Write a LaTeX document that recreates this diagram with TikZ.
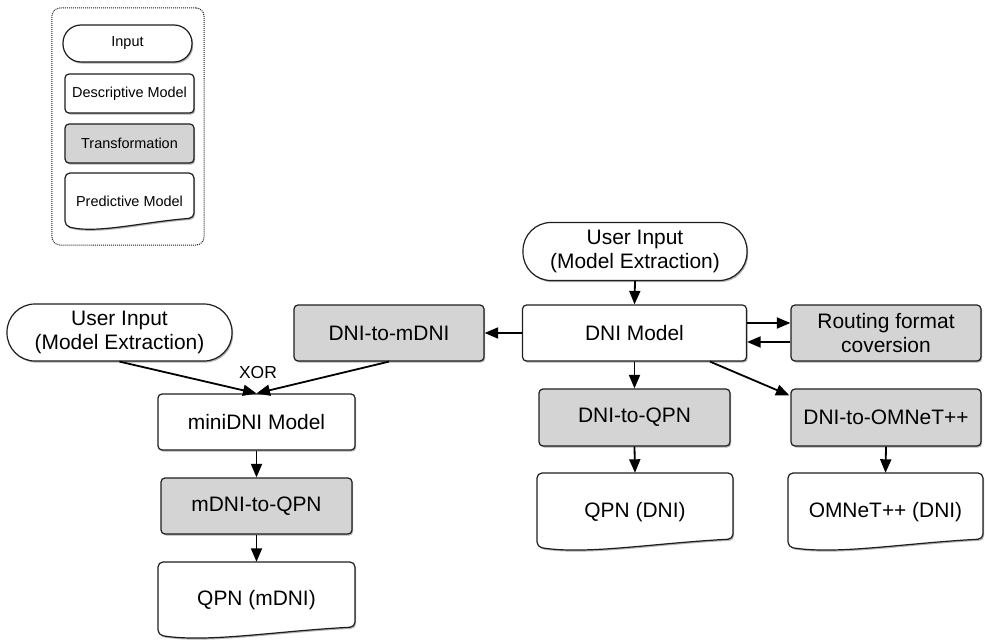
\documentclass[tikz,border=0pt]{standalone}
\usepackage{fontspec}
\setmainfont{Liberation Sans}
\usetikzlibrary{arrows.meta,shadows,calc}
\definecolor{boxgray}{RGB}{212,212,212}
\definecolor{edgecol}{RGB}{30,30,30}
\newcommand{\mainfs}{\fontsize{21}{25}\selectfont}
\newcommand{\legendfs}{\fontsize{14.5}{17}\selectfont}
\newcommand{\xorfs}{\fontsize{17.5}{20}\selectfont}
\tikzset{
  softshadow/.style={drop shadow={shadow xshift=1.2bp, shadow yshift=-1.6bp, opacity=0.3, fill=black}},
  basebox/.style={draw=edgecol, line width=1.2bp, rounded corners=4bp, align=center,
                  inner sep=0pt, font=\mainfs, softshadow},
  descbox/.style={basebox, fill=white},
  transbox/.style={basebox, fill=boxgray},
  inbox/.style={basebox, fill=white, rounded corners=28bp},
  docline/.style={draw=edgecol, line width=1.2bp, fill=white, rounded corners=5bp, softshadow},
  doctext/.style={align=center, inner sep=0pt, font=\mainfs},
  arr/.style={-{Triangle[length=13.5bp,width=11bp]}, line width=1.8bp, draw=black},
  legendframe/.style={draw=edgecol, densely dotted, line width=1bp, rounded corners=8bp}
}
% document shape: name, left, top, right, lowest point of the wavy bottom, text
\newcommand{\docnode}[6]{%
  \path[docline] (#4,#5-12) .. controls ({#4-0.4*(#4-#2)},#5-8) and ({#2+0.25*(#4-#2)},#5+4) .. (#2,#5-4)
     -- (#2,#3) -- (#4,#3) -- cycle;
  \node[doctext, minimum width={(#4-#2)*1bp}, minimum height={(#5-#3)*1bp}] (#1)
     at ({(#2+#4)/2},{(#3+#5)/2}) {#6};
}
\begin{document}
\begin{tikzpicture}[x=1bp,y=-1bp]
\useasboundingbox (0,0) rectangle (985,642);

% legend
\node[legendframe, minimum width=152bp, minimum height=237bp] (legend) at (128,126.5) {};
\node[inbox, font=\legendfs, rounded corners=18bp, minimum width=129bp, minimum height=37bp] (lin) at (127.5,43.5) {Input};
\node[descbox, font=\legendfs, minimum width=129bp, minimum height=39bp] (ldesc) at (129.5,93.5) {Descriptive Model};
\node[transbox, font=\legendfs, minimum width=129bp, minimum height=39bp] (ltrans) at (129.5,143.5) {Transformation};
\docnode{lpred}{65}{173}{194}{230}{\legendfs Predictive Model}

% inputs
\node[inbox, minimum width=225bp, minimum height=57bp] (uinL) at (119.5,332.5) {User Input\\(Model Extraction)};
\node[inbox, minimum width=224bp, minimum height=58bp] (uinR) at (635,251.5) {User Input\\(Model Extraction)};

% descriptive models
\node[descbox, minimum width=224bp, minimum height=56bp] (dni) at (634.5,333) {DNI Model};
\node[descbox, minimum width=197bp, minimum height=56bp] (mini) at (256.5,422) {miniDNI Model};

% transformations
\node[transbox, minimum width=190bp, minimum height=56bp] (route) at (886,333) {Routing format\\coversion};
\node[transbox, minimum width=190bp, minimum height=56bp] (d2m) at (389,333) {DNI-to-mDNI};
\node[transbox, minimum width=191bp, minimum height=56bp] (m2q) at (256.5,506) {mDNI-to-QPN};
\node[transbox, minimum width=191bp, minimum height=57bp] (d2q) at (634.5,417.5) {DNI-to-QPN};
\node[transbox, minimum width=190bp, minimum height=57bp] (d2o) at (886,417.5) {DNI-to-OMNeT++};

% predictive models
\docnode{qpnm}{158}{562}{355}{639}{QPN (mDNI)}
\docnode{qpnd}{537}{473}{733}{551}{QPN (DNI)}
\docnode{omd}{788}{473}{983}{551}{OMNeT++ (DNI)}

% connectors
\draw[arr] (uinR.south) -- (dni.north);
\draw[arr] (dni.west) -- (d2m.east);
\draw[arr] ($(dni.east)+(0,-10)$) -- ($(route.west)+(0,-10)$);
\draw[arr] ($(route.west)+(0,9)$) -- ($(dni.east)+(0,9)$);
\draw[arr] (dni.south) -- (d2q.north);
\draw[arr] ($(dni.south)!0.67!(dni.south east)$) -- ($(d2o.north west)+(-1,7)$);
\draw[arr] (d2q.south) -- (qpnd.north);
\draw[arr] (d2o.south) -- (omd.north);
\draw[arr] (uinL.south) -- (mini.north);
\draw[arr] (d2m.south) -- (mini.north);
\draw[arr] (mini.south) -- (m2q.north);
\draw[arr] (m2q.south) -- (qpnm.north);
\node[font=\xorfs, inner sep=0pt] (xor) at (258,372) {XOR};
\end{tikzpicture}
\end{document}
